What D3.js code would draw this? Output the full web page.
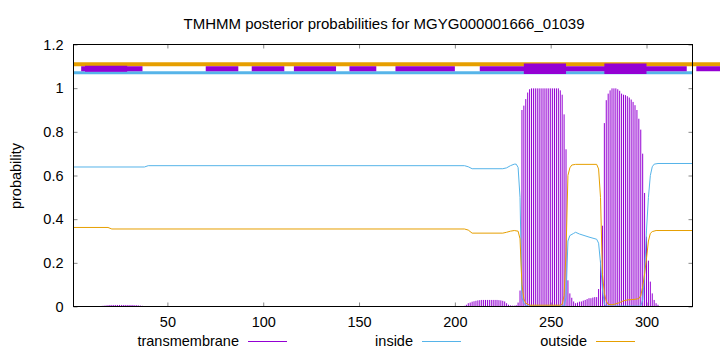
<!DOCTYPE html>
<html>
<head>
<meta charset="utf-8">
<script src="https://cdn.jsdelivr.net/npm/d3@7"></script>
<style>
  body { margin: 0; background: #fff; }
  svg { display: block; font-family: "Liberation Sans", Arial, sans-serif; }
  .tick line { stroke: #888; }
  .tick text { font-size: 14.5px; fill: #000; }
</style>
</head>
<body>
<svg width="720" height="352"></svg>
<script>
// values for MGYG000001666_01039 (324 residues)
var seqLength = 324;
var xTicks = [50, 100, 150, 200, 250, 300];
var yTicks = [0, 0.2, 0.4, 0.6, 0.8, 1, 1.2];

// inside probability, [residue, value] where the curve bends
var insideProb = [
  [1, 0.639], [38, 0.639], [40, 0.645], [205, 0.645], [207, 0.64], [209, 0.631],
  [225, 0.631], [227, 0.635], [229, 0.645], [231, 0.652], [232, 0.652], [233, 0.637],
  [234, 0.5], [235, 0.04], [236, 0.015], [237, 0.005], [238, 0.002], [257, 0.002],
  [258, 0.04], [259, 0.3], [260, 0.325], [262, 0.335], [263, 0.34], [265, 0.332],
  [270, 0.318], [274, 0.308], [275, 0.29], [276, 0.2], [277, 0.08], [278, 0.01],
  [279, 0.002], [297, 0.002], [298, 0.03], [299, 0.15], [300, 0.35], [301, 0.5],
  [302, 0.6], [303, 0.64], [304, 0.652], [306, 0.655], [324, 0.655]
];

// outside probability
var outsideProb = [
  [1, 0.362], [19, 0.362], [21, 0.355], [205, 0.355], [207, 0.35], [209, 0.336],
  [225, 0.336], [227, 0.34], [229, 0.345], [231, 0.348], [233, 0.345], [234, 0.31],
  [235, 0.1], [236, 0.035], [237, 0.015], [239, 0.006], [255, 0.006], [256, 0.01],
  [257, 0.05], [258, 0.25], [259, 0.6], [260, 0.635], [261, 0.648], [263, 0.651],
  [274, 0.651], [275, 0.63], [276, 0.5], [277, 0.15], [278, 0.06], [279, 0.025],
  [280, 0.01], [282, 0.008], [284, 0.012], [286, 0.018], [288, 0.026], [290, 0.03],
  [294, 0.033], [296, 0.036], [297, 0.05], [298, 0.09], [299, 0.15], [300, 0.22],
  [301, 0.3], [302, 0.335], [303, 0.343], [305, 0.348], [324, 0.348]
];

// transmembrane probability per residue (residues not listed are ~0)
var tmProb = [
  [15, 0.002], [16, 0.003], [17, 0.004], [18, 0.005], [19, 0.006], [20, 0.007],
  [21, 0.007], [22, 0.007], [23, 0.007], [24, 0.007], [25, 0.007], [26, 0.007],
  [27, 0.007], [28, 0.007], [29, 0.007], [30, 0.007], [31, 0.007], [32, 0.007],
  [33, 0.006], [34, 0.006], [35, 0.005], [36, 0.004], [37, 0.003], [38, 0.002],
  [205, 0.003], [206, 0.008], [207, 0.015], [208, 0.018], [209, 0.022], [210, 0.024],
  [211, 0.026], [212, 0.028], [213, 0.029], [214, 0.03], [215, 0.03], [216, 0.03],
  [217, 0.03], [218, 0.03], [219, 0.03], [220, 0.03], [221, 0.03], [222, 0.03],
  [223, 0.029], [224, 0.028], [225, 0.026], [226, 0.023], [227, 0.015], [228, 0.008],
  [229, 0.005], [230, 0.004], [231, 0.004], [232, 0.006], [233, 0.018], [234, 0.073],
  [235, 0.9], [236, 0.92], [237, 0.95], [238, 0.98], [239, 0.995], [240, 0.999],
  [241, 0.999], [242, 0.999], [243, 0.999], [244, 0.999], [245, 0.999], [246, 0.999],
  [247, 0.999], [248, 0.999], [249, 0.999], [250, 0.999], [251, 0.999], [252, 0.999],
  [253, 0.999], [254, 0.999], [255, 0.99], [256, 0.97], [257, 0.88], [258, 0.72],
  [259, 0.12], [260, 0.06], [261, 0.04], [262, 0.023], [263, 0.015], [264, 0.018],
  [265, 0.022], [266, 0.023], [267, 0.027], [268, 0.03], [269, 0.034], [270, 0.038],
  [271, 0.038], [272, 0.041], [273, 0.043], [274, 0.043], [275, 0.08], [276, 0.21],
  [277, 0.37], [278, 0.84], [279, 0.945], [280, 0.975], [281, 0.99], [282, 0.999],
  [283, 0.999], [284, 0.999], [285, 0.995], [286, 0.988], [287, 0.975], [288, 0.97],
  [289, 0.968], [290, 0.963], [291, 0.957], [292, 0.948], [293, 0.937], [294, 0.922],
  [295, 0.9], [296, 0.86], [297, 0.81], [298, 0.7], [299, 0.52], [300, 0.32],
  [301, 0.21], [302, 0.114], [303, 0.06], [304, 0.03], [305, 0.015], [306, 0.008]
];

// predicted topology strip above the curves
var outsideBarY = 1.11;
var insideBarY = 1.071;
var tmBarY = 1.089;
var outsideStrip = [[1, 340]];
var insideStrip = [[1, seqLength]];
var tmStripSegments = [[5, 37], [70, 87], [94, 111], [116, 138], [145, 159], [169, 200], [213, 321], [326, 340]];
var tmStripThick = [[7, 29]];
var tmHelices = [[236, 258], [278, 300]];

var colors = { tm: "#9400D3", inside: "#56B4E9", outside: "#E69F00" };

var svg = d3.select("svg"),
    margin = { top: 44.5, right: 27.5, bottom: 45.5, left: 73.5 },
    width = +svg.attr("width") - margin.left - margin.right,
    height = +svg.attr("height") - margin.top - margin.bottom;

var x = d3.scaleLinear().domain([1, seqLength]).range([0, width]);
var y = d3.scaleLinear().domain([0, 1.2]).range([height, 0]);

var g = svg.append("g")
    .attr("transform", "translate(" + margin.left + "," + margin.top + ")");

// axes, gnuplot style: ticks point inward and are mirrored
var fmt = d3.format("~g");
g.append("g")
    .attr("transform", "translate(0," + height + ")")
    .call(d3.axisBottom(x).tickValues(xTicks).tickSize(-4).tickPadding(10).tickFormat(fmt))
    .call(a => a.select(".domain").remove());
g.append("g")
    .call(d3.axisTop(x).tickValues(xTicks).tickSize(-4).tickFormat(""))
    .call(a => a.select(".domain").remove());
g.append("g")
    .call(d3.axisLeft(y).tickValues(yTicks).tickSize(-4).tickPadding(10).tickFormat(fmt))
    .call(a => a.select(".domain").remove());
g.append("g")
    .attr("transform", "translate(" + width + ",0)")
    .call(d3.axisRight(y).tickValues(yTicks).tickSize(-4).tickFormat(""))
    .call(a => a.select(".domain").remove());
g.selectAll(".tick text").attr("font-family", null).attr("font-size", null);

// transmembrane impulses
g.selectAll(".impulse")
    .data(tmProb)
    .enter()
  .append("line")
    .attr("class", "impulse")
    .attr("x1", d => x(d[0]))
    .attr("x2", d => x(d[0]))
    .attr("y1", y(0))
    .attr("y2", d => y(d[1]))
    .attr("stroke", colors.tm)
    .attr("stroke-width", 1);

var line = d3.line().x(d => x(d[0])).y(d => y(d[1]));

g.append("path")
    .datum(insideProb)
    .attr("d", line)
    .attr("fill", "none")
    .attr("stroke", colors.inside)
    .attr("stroke-width", 1);

g.append("path")
    .datum(outsideProb)
    .attr("d", line)
    .attr("fill", "none")
    .attr("stroke", colors.outside)
    .attr("stroke-width", 1);

// topology strip
function strip(segs, yv, color, w) {
    g.append("g").selectAll("line")
        .data(segs)
        .enter()
      .append("line")
        .attr("x1", d => x(d[0]))
        .attr("x2", d => x(d[1]))
        .attr("y1", y(yv))
        .attr("y2", y(yv))
        .attr("stroke", color)
        .attr("stroke-width", w);
}
strip(outsideStrip, outsideBarY, colors.outside, 4);
strip(insideStrip, insideBarY, colors.inside, 3);
strip(tmStripSegments, tmBarY, colors.tm, 5);
strip(tmStripThick, tmBarY, colors.tm, 6);
strip(tmHelices, tmBarY, colors.tm, 10.5);

// border
g.append("rect")
    .attr("width", width)
    .attr("height", height)
    .attr("fill", "none")
    .attr("stroke", "#000")
    .attr("stroke-width", 1);

// title + y label
svg.append("text")
    .attr("x", 384)
    .attr("y", 29)
    .attr("text-anchor", "middle")
    .style("font-size", "15px")
    .text("TMHMM posterior probabilities for MGYG000001666_01039");

svg.append("text")
    .attr("transform", "translate(21,176) rotate(-90)")
    .attr("text-anchor", "middle")
    .style("font-size", "14.5px")
    .text("probability");

// legend along the bottom
var legend = [
  { name: "transmembrane", color: colors.tm, end: 239 },
  { name: "inside", color: colors.inside, end: 413 },
  { name: "outside", color: colors.outside, end: 587 }
];
var lg = svg.append("g").selectAll("g")
    .data(legend)
    .enter()
  .append("g");
lg.append("text")
    .attr("x", d => d.end)
    .attr("y", 346)
    .attr("text-anchor", "end")
    .style("font-size", "14.5px")
    .text(d => d.name);
lg.append("line")
    .attr("x1", d => d.end + 9)
    .attr("x2", d => d.end + 48)
    .attr("y1", 341.5)
    .attr("y2", 341.5)
    .attr("stroke", d => d.color)
    .attr("stroke-width", 1);
</script>
</body>
</html>
